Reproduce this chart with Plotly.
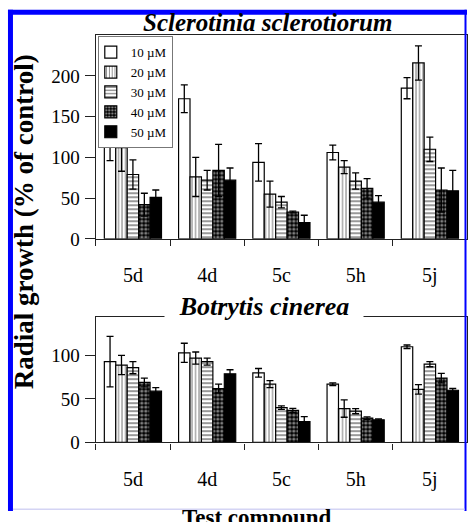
import plotly.graph_objects as go

compounds = ["5d", "4d", "5c", "5h", "5j"]
concentrations = ["10 \u00b5M", "20 \u00b5M", "30 \u00b5M", "40 \u00b5M", "50 \u00b5M"]

# Sclerotinia sclerotiorum (radial growth, % of control)
ss_10 = [118, 172, 94, 106, 185]
ss_20 = [112, 76, 55, 88, 216]
ss_30 = [79, 72, 45, 71, 110]
ss_40 = [42, 84, 33, 62, 60]
ss_50 = [51, 72, 20, 45, 59]
ss_10_err = [22, 17, 23, 9, 13]
ss_20_err = [29, 24, 16, 8, 21]
ss_30_err = [18, 12, 7, 10, 15]
ss_40_err = [14, 32, 1, 12, 27]
ss_50_err = [9, 15, 9, 8, 25]

# Botrytis cinerea (radial growth, % of control)
bc_10 = [93, 103, 80, 67, 110]
bc_20 = [89, 97, 67, 39, 61]
bc_30 = [86, 93, 40, 36, 90]
bc_40 = [69, 62, 37, 28, 74]
bc_50 = [59, 79, 24, 26, 60]
bc_10_err = [29, 11, 5, 1.5, 2]
bc_20_err = [11, 7, 4, 10, 5.5]
bc_30_err = [7, 4, 2, 3, 3]
bc_40_err = [5, 5, 2.3, 1.5, 5.5]
bc_50_err = [4, 4.6, 5.6, 1, 2]

ss_vals = [ss_10, ss_20, ss_30, ss_40, ss_50]
ss_errs = [ss_10_err, ss_20_err, ss_30_err, ss_40_err, ss_50_err]
bc_vals = [bc_10, bc_20, bc_30, bc_40, bc_50]
bc_errs = [bc_10_err, bc_20_err, bc_30_err, bc_40_err, bc_50_err]

styles = [
    dict(color="white", pattern=dict(shape="")),
    dict(color="white", pattern=dict(shape="|", fgcolor="black", bgcolor="white",
                                     size=3.5, solidity=0.3, fillmode="overlay")),
    dict(color="white", pattern=dict(shape="-", fgcolor="black", bgcolor="white",
                                     size=4, solidity=0.4, fillmode="overlay")),
    dict(color="black", pattern=dict(shape=".", fgcolor="white", bgcolor="black",
                                     size=4, solidity=0.5, fillmode="overlay")),
    dict(color="black", pattern=dict(shape="")),
]

W, H = 468, 522
SERIF = "Liberation Serif, Times New Roman, serif"

fig = go.Figure()
for panel, (vals, errs, xa, ya) in enumerate([(ss_vals, ss_errs, "x", "y"),
                                              (bc_vals, bc_errs, "x2", "y2")]):
    for i, name in enumerate(concentrations):
        st = styles[i]
        fig.add_trace(go.Bar(
            x=compounds, y=vals[i], name=name,
            xaxis=xa, yaxis=ya,
            showlegend=(panel == 0), legendgroup=name,
            marker=dict(color=st["color"], pattern=st["pattern"],
                        line=dict(color="black", width=1.2)),
            error_y=dict(type="data", array=errs[i], color="black",
                         thickness=1.3, width=3.5),
        ))


def px_x(v):
    return v / W


def px_y(v):
    return 1 - v / H


axis_common = dict(showline=True, linecolor="#222", linewidth=1.3, mirror=True,
                   showgrid=False, zeroline=False)

xcommon = dict(axis_common, type="category", ticks="outside", tickson="boundaries",
               ticklen=6, tickcolor="#222", tickwidth=1.2, ticklabelstandoff=18,
               tickfont=dict(family=SERIF, size=20, color="black"),
               domain=[px_x(96), 1.0])
ycommon = dict(axis_common, ticks="outside", ticklen=10, tickcolor="#222",
               tickwidth=1.2, ticklabelstandoff=1,
               tickfont=dict(family=SERIF, size=19, color="black"))

fig.update_layout(
    width=W, height=H,
    margin=dict(l=0, r=0, t=0, b=0),
    paper_bgcolor="white", plot_bgcolor="white",
    barmode="group", bargap=0.23, bargroupgap=0,
    font=dict(family=SERIF, color="black"),
    xaxis=dict(xcommon, anchor="y"),
    yaxis=dict(ycommon, anchor="x", range=[0, 250], tickvals=[0, 50, 100, 150, 200],
               domain=[px_y(244), px_y(36)]),
    xaxis2=dict(xcommon, anchor="y2"),
    yaxis2=dict(ycommon, anchor="x2", range=[0, 144], tickvals=[0, 50, 100],
                domain=[px_y(452), px_y(324)]),
    legend=dict(x=px_x(98), y=px_y(37), xanchor="left", yanchor="top",
                bgcolor="white", bordercolor="#777", borderwidth=1,
                font=dict(family=SERIF, size=13, color="black"),
                itemwidth=30, tracegroupgap=0, indentation=-8),
    annotations=[
        dict(text="<b><i>Sclerotinia sclerotiorum</i></b>", x=px_x(268), y=px_y(23),
             xref="paper", yref="paper", showarrow=False, xanchor="center", yanchor="middle",
             font=dict(family=SERIF, size=25, color="black")),
        dict(text="<b><i>Botrytis cinerea</i></b>", x=px_x(265), y=px_y(313),
             xref="paper", yref="paper", showarrow=False, xanchor="center", yanchor="middle",
             bgcolor="white", width=196,
             font=dict(family=SERIF, size=26, color="black")),
        dict(text="<b>Radial growth (% of control)</b>", x=px_x(24), y=px_y(226),
             xref="paper", yref="paper", showarrow=False, textangle=-90,
             xanchor="center", yanchor="middle",
             font=dict(family=SERIF, size=27, color="black")),
        dict(text="<b>Test compound</b>", x=px_x(258), y=px_y(529),
             xref="paper", yref="paper", showarrow=False,
             xanchor="center", yanchor="middle",
             font=dict(family=SERIF, size=23, color="black")),
    ],
    shapes=[
        dict(type="rect", xref="paper", yref="paper", x0=px_x(8), x1=px_x(13),
             y0=0, y1=px_y(10), fillcolor="#0000ff", line=dict(width=0)),
        dict(type="rect", xref="paper", yref="paper", x0=px_x(8), x1=1,
             y0=px_y(15), y1=px_y(10), fillcolor="#0000ff", line=dict(width=0)),
        dict(type="rect", xref="paper", yref="paper", x0=px_x(465.5), x1=px_x(467.5),
             y0=0, y1=px_y(10), fillcolor="#0000ff", line=dict(width=0)),
        dict(type="rect", xref="paper", yref="paper", x0=px_x(13), x1=px_x(465.5),
             y0=px_y(521), y1=px_y(519.5), fillcolor="#d4d4f4", line=dict(width=0)),
    ],
)

fig.write_html("out.html", config={"displayModeBar": False},
               post_script="document.body.style.margin='0px';"
                           "document.body.style.overflow='hidden';")
